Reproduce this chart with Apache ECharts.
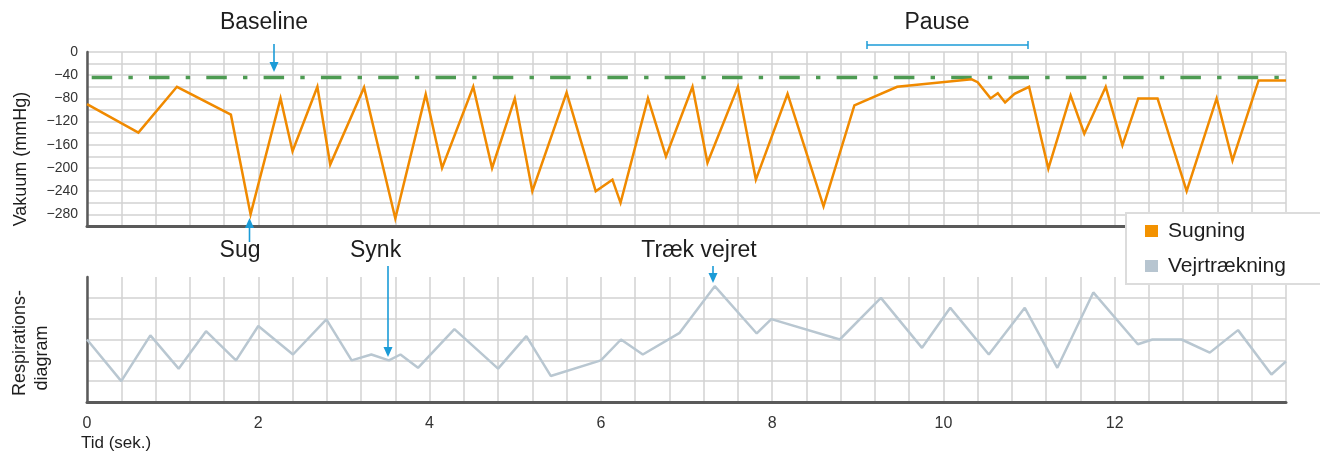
<!DOCTYPE html>
<html>
<head>
<meta charset="utf-8">
<script src="https://cdn.jsdelivr.net/npm/echarts@6/dist/echarts.min.js"></script>
<style>
html,body{margin:0;padding:0;background:#fff;}
#c{width:1320px;height:454px;}
</style>
</head>
<body>
<div id="c"></div>
<script>
// Vacuum trace (Sugning): time (s) and vacuum (mmHg)
const sugTime = [0, 0.6, 1.05, 1.68, 1.91, 2.26, 2.40, 2.69, 2.84, 3.235, 3.60, 3.955, 4.146, 4.51, 4.73, 4.995, 5.20, 5.60, 5.94, 6.135, 6.23, 6.55, 6.76, 7.07, 7.245, 7.60, 7.81, 8.18, 8.60, 8.96, 9.46, 10.33, 10.40, 10.55, 10.635, 10.72, 10.83, 11.0, 11.225, 11.485, 11.645, 11.895, 12.09, 12.275, 12.50, 12.84, 13.19, 13.375, 13.68, 14.0];
const sugValue = [-90, -139, -60, -108, -280, -80, -171, -60, -194, -61, -287, -73, -200, -60, -200, -80, -240, -70, -240, -220, -260, -80, -180, -60, -191, -60, -220, -72, -266, -92, -60, -47, -52, -80, -71, -87, -72, -60, -201, -75, -141, -60, -161, -80, -80, -240, -80, -187, -49, -49];

// Respiration trace (Vejrtrækning): time (s) and relative amplitude
const respTime = [0, 0.40, 0.74, 1.07, 1.39, 1.74, 2.0, 2.405, 2.795, 3.09, 3.32, 3.525, 3.66, 3.865, 4.29, 4.80, 5.13, 5.415, 6.0, 6.235, 6.49, 6.92, 7.33, 7.82, 7.99, 8.79, 9.27, 9.75, 10.08, 10.53, 10.95, 11.33, 11.75, 12.27, 12.44, 12.78, 13.11, 13.44, 13.83, 14.0];
const respValue = [3.0, 1.0, 3.2, 1.6, 3.4, 2.0, 3.65, 2.28, 3.97, 2.0, 2.28, 2.0, 2.28, 1.64, 3.5, 1.6, 3.16, 1.25, 2.0, 3.0, 2.28, 3.32, 5.56, 3.29, 3.98, 3.0, 5.0, 2.6, 4.52, 2.28, 4.52, 1.64, 5.26, 2.77, 3.0, 3.0, 2.37, 3.45, 1.32, 1.95];

// Baseline vacuum level
const baselineTime = [0, 14];
const baselineValue = -44;

const seriesNames = ['Sugning', 'Vejrtrækning'];

const FONT = '"Liberation Sans", Arial, Helvetica, sans-serif';
const GRIDC = '#d2d2d2';
const AXISC = '#5a5a5a';
const BLUE = '#1b9bd7';

const chart = echarts.init(document.getElementById('c'), null, {renderer: 'canvas'});

function arrow(x, y1, y2) {
  const dir = y2 > y1 ? 1 : -1;
  const headLen = 10, headW = 4.5;
  return [
    {type: 'line', shape: {x1: x, y1: y1, x2: x, y2: y2 - dir * headLen + dir}, style: {stroke: BLUE, lineWidth: 1.6}, z: 100},
    {type: 'polygon', shape: {points: [[x - headW, y2 - dir * headLen], [x + headW, y2 - dir * headLen], [x, y2]]}, style: {fill: BLUE}, z: 100}
  ];
}

function label(text, cx, cy) {
  return {type: 'text', x: cx, y: cy, style: {text: text, font: '23px ' + FONT, fill: '#1e1e1e', align: 'center', verticalAlign: 'middle'}, z: 100};
}

const isMultiple = (v, m) => Math.abs(v / m - Math.round(v / m)) < 1e-6;

const option = {
  animation: false,
  backgroundColor: '#fff',
  textStyle: {fontFamily: FONT},
  grid: [
    {left: 87, right: 34, top: 52, height: 174},
    {left: 87, right: 34, top: 277, height: 125}
  ],
  xAxis: [
    {
      type: 'value', gridIndex: 0, min: 0, max: 14, interval: 0.4,
      axisLine: {show: true, onZero: false, lineStyle: {color: AXISC, width: 3}},
      axisTick: {show: false}, axisLabel: {show: false},
      splitLine: {show: true, lineStyle: {color: GRIDC, width: 1.5}}
    },
    {
      type: 'value', gridIndex: 1, min: 0, max: 14, interval: 0.4,
      axisLine: {show: true, onZero: false, lineStyle: {color: AXISC, width: 3}},
      axisTick: {show: false},
      axisLabel: {
        show: true, fontSize: 16, color: '#333', fontFamily: FONT, margin: 14,
        formatter: v => (isMultiple(v, 2) && v < 13.9) ? String(Math.round(v)) : ''
      },
      splitLine: {show: true, lineStyle: {color: GRIDC, width: 1.5}}
    }
  ],
  yAxis: [
    {
      type: 'value', gridIndex: 0, min: -300, max: 0, interval: 20,
      axisLine: {show: true, onZero: false, lineStyle: {color: AXISC, width: 2.5}},
      axisTick: {show: false},
      axisLabel: {
        show: true, fontSize: 14, color: '#333', fontFamily: FONT, margin: 9,
        formatter: v => (isMultiple(v, 40) && v > -300) ? String(v).replace('-', '\u2212') : ''
      },
      splitLine: {show: true, lineStyle: {color: GRIDC, width: 1.5}}
    },
    {
      type: 'value', gridIndex: 1, min: 0, max: 6, interval: 1,
      axisLine: {show: true, onZero: false, lineStyle: {color: AXISC, width: 2.5}},
      axisTick: {show: false}, axisLabel: {show: false},
      splitLine: {show: true, showMaxLine: false, lineStyle: {color: [GRIDC, GRIDC, GRIDC, GRIDC, GRIDC, GRIDC, 'rgba(0,0,0,0)'], width: 1.5}}
    }
  ],
  legend: {
    data: seriesNames,
    orient: 'vertical',
    left: 1126, top: 213,
    padding: [3, 60, 3, 19],
    itemWidth: 13, itemHeight: 12, itemGap: 5,
    icon: 'rect',
    backgroundColor: '#fff',
    borderColor: '#dcdcdc', borderWidth: 2,
    textStyle: {fontSize: 21, color: '#1e1e1e', fontFamily: FONT, lineHeight: 24, padding: [0, 0, 6, 5]},
    z: 50
  },
  series: [
    {
      name: seriesNames[0], type: 'line', xAxisIndex: 0, yAxisIndex: 0,
      data: sugTime.map((t, i) => [t, sugValue[i]]),
      showSymbol: false, symbol: 'none',
      color: '#f39200',
      lineStyle: {color: '#f08a00', width: 2.5, join: 'miter'},
      z: 5
    },
    {
      name: 'baseline', type: 'line', xAxisIndex: 0, yAxisIndex: 0,
      data: baselineTime.map(t => [t, baselineValue]),
      showSymbol: false, symbol: 'none',
      color: '#4d9b52',
      lineStyle: {color: '#4d9b52', width: 3.5, type: [20.5, 16.2, 4.4, 16.2], dashOffset: 52.6, cap: 'butt'},
      z: 4
    },
    {
      name: seriesNames[1], type: 'line', xAxisIndex: 1, yAxisIndex: 1,
      data: respTime.map((t, i) => [t, respValue[i]]),
      showSymbol: false, symbol: 'none',
      color: '#b7c5d0',
      lineStyle: {color: '#b9c7d1', width: 2.5},
      z: 5
    }
  ],
  graphic: [
    label('Baseline', 264, 23),
    label('Pause', 937, 23),
    label('Sug', 240, 251),
    {type: 'text', x: 350, y: 251, style: {text: 'Synk', font: '23px ' + FONT, fill: '#1e1e1e', align: 'left', verticalAlign: 'middle'}, z: 100},
    label('Træk vejret', 699, 251),
    ...arrow(274, 44, 72),
    ...arrow(249.5, 242, 218),
    ...arrow(388, 266, 357),
    ...arrow(713, 266, 283),
    {type: 'line', shape: {x1: 867, y1: 45, x2: 1028, y2: 45}, style: {stroke: BLUE, lineWidth: 1.5}, z: 100},
    {type: 'line', shape: {x1: 867, y1: 41, x2: 867, y2: 49}, style: {stroke: BLUE, lineWidth: 1.5}, z: 100},
    {type: 'line', shape: {x1: 1028, y1: 41, x2: 1028, y2: 49}, style: {stroke: BLUE, lineWidth: 1.5}, z: 100},
    {type: 'text', x: 21, y: 159, rotation: Math.PI / 2, style: {text: 'Vakuum (mmHg)', font: '18px ' + FONT, fill: '#1e1e1e', align: 'center', verticalAlign: 'middle'}, z: 100},
    {type: 'text', x: 20, y: 343, rotation: Math.PI / 2, style: {text: 'Respirations-', font: '18px ' + FONT, fill: '#1e1e1e', align: 'center', verticalAlign: 'middle'}, z: 100},
    {type: 'text', x: 42, y: 358, rotation: Math.PI / 2, style: {text: 'diagram', font: '18px ' + FONT, fill: '#1e1e1e', align: 'center', verticalAlign: 'middle'}, z: 100},
    {type: 'text', x: 81, y: 443, style: {text: 'Tid (sek.)', font: '17px ' + FONT, fill: '#1e1e1e', align: 'left', verticalAlign: 'middle'}, z: 100}
  ]
};

chart.setOption(option);
</script>
</body>
</html>
